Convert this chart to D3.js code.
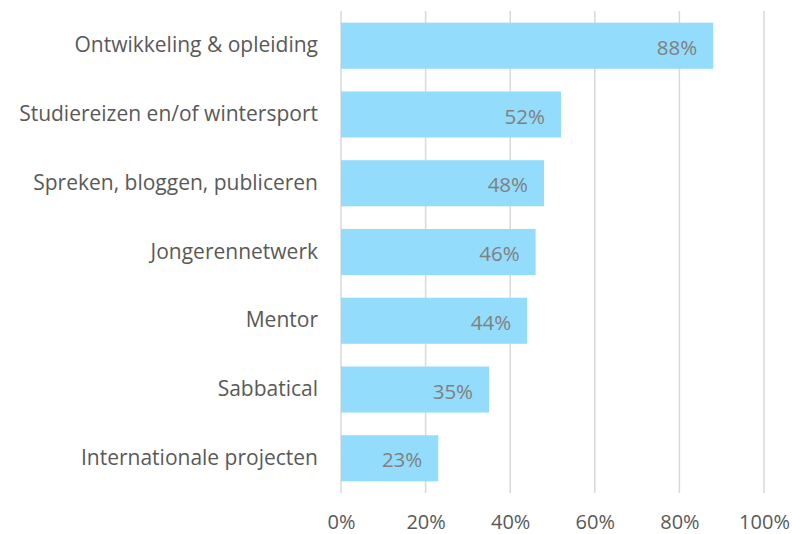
<!DOCTYPE html>
<html>
<head>
<meta charset="utf-8">
<script src="https://cdn.jsdelivr.net/npm/d3@7"></script>
<style>
  body { margin: 0; background: #fff; }
  svg text { font-family: "Open Sans", "Noto Sans", sans-serif; }
</style>
</head>
<body>
<div id="myPlot" style="width:792px;height:534px"></div>
<script>
// Data
const categories = [
  "Ontwikkeling & opleiding",
  "Studiereizen en/of wintersport",
  "Spreken, bloggen, publiceren",
  "Jongerennetwerk",
  "Mentor",
  "Sabbatical",
  "Internationale projecten"
];
const values = [88, 52, 48, 46, 44, 35, 23];
const xTicks = [0, 20, 40, 60, 80, 100];

// Plot area
const width = 792, height = 534;
const plotLeft = 341, plotRight = 764, plotTop = 11, plotBottom = 493;

const svg = d3.select("#myPlot")
  .append("svg")
  .attr("width", width)
  .attr("height", height);

const x = d3.scaleLinear().domain([0, 100]).range([plotLeft, plotRight]);
const y = d3.scaleBand().domain(categories).range([plotTop, plotBottom]).paddingInner(0.33).paddingOuter(0.17);

// Gridlines
svg.append("g")
  .selectAll("line")
  .data(xTicks).enter()
  .append("line")
  .attr("x1", d => x(d)).attr("x2", d => x(d))
  .attr("y1", plotTop).attr("y2", plotBottom)
  .style("stroke", "#d9d9d9")
  .style("stroke-width", 1.5);

// Bars
svg.append("g")
  .selectAll("rect")
  .data(values).enter()
  .append("rect")
  .attr("x", x(0))
  .attr("y", (d, i) => y(categories[i]))
  .attr("width", d => x(d) - x(0))
  .attr("height", y.bandwidth())
  .style("fill", "#93dcfc");

// Value labels
svg.append("g")
  .selectAll("text")
  .data(values).enter()
  .append("text")
  .attr("x", d => x(d) - 16)
  .attr("y", (d, i) => y(categories[i]) + y.bandwidth() / 2 + 2)
  .attr("dy", "0.35em")
  .attr("text-anchor", "end")
  .style("font-size", "20.5px")
  .style("fill", "#808080")
  .text(d => d + "%");

// Category axis
const yAxis = svg.append("g")
  .attr("transform", "translate(" + plotLeft + ",0)")
  .call(d3.axisLeft(y).tickSize(0).tickPadding(23));
yAxis.select(".domain").remove();
yAxis.selectAll("text")
  .style("font-size", "21px")
  .style("fill", "#595959");

// Value axis
const xAxis = svg.append("g")
  .attr("transform", "translate(0," + plotBottom + ")")
  .call(d3.axisBottom(x).tickValues(xTicks).tickSize(0).tickPadding(22).tickFormat(d => d + "%"));
xAxis.select(".domain").remove();
xAxis.selectAll("text")
  .style("font-size", "20px")
  .style("fill", "#595959");
</script>
</body>
</html>
